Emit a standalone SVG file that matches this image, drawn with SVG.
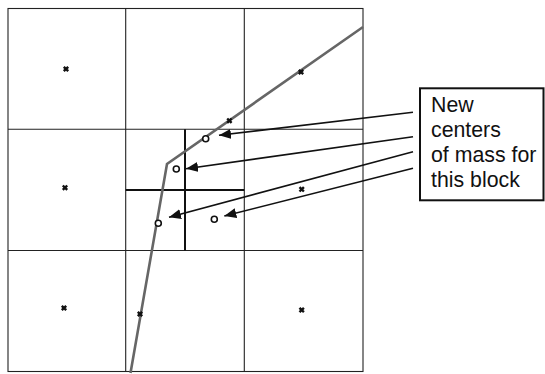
<svg xmlns="http://www.w3.org/2000/svg" width="545" height="374" viewBox="0 0 545 374">
<style>
.grid{stroke:#222;stroke-width:1.1;fill:none}
.inner{stroke:#111;stroke-width:2;fill:none}
.curve{stroke:#666;stroke-width:2.6;fill:none;stroke-linejoin:miter}
.com{fill:#fff;stroke:#111;stroke-width:1.6}
.arrow{stroke:#111;stroke-width:1.6;fill:none}
.lbl{font-family:"Liberation Sans",Arial,sans-serif;font-size:21.3px;fill:#111}
</style>
<defs>
<marker id="ah" markerUnits="userSpaceOnUse" markerWidth="14" markerHeight="12" refX="12" refY="5" orient="auto">
<path d="M0,0 L12,5 L0,10 Z" fill="#111"/>
</marker>
<path id="x" d="M-2.2,-2.2 L2.2,2.2 M-2.2,2.2 L2.2,-2.2" stroke="#111" stroke-width="2.4" fill="none"/>
</defs>
<rect width="545" height="374" fill="#fff"/>
<g id="grid">
<rect class="grid" x="8" y="8.5" width="355" height="363"/>
<line class="grid" x1="125.7" y1="8.5" x2="125.7" y2="371.5"/>
<line class="grid" x1="244.3" y1="8.5" x2="244.3" y2="371.5"/>
<line class="grid" x1="8" y1="129.3" x2="363" y2="129.3"/>
<line class="grid" x1="8" y1="250.5" x2="363" y2="250.5"/>
</g>
<g id="subdivision">
<line class="inner" x1="185" y1="129.3" x2="185" y2="250.5"/>
<line class="inner" x1="125.7" y1="190" x2="244.3" y2="190"/>
</g>
<g id="boundary">
<polyline class="curve" points="130.5,373 167,164 363,27"/>
</g>
<g id="old-centers">
<use href="#x" x="66" y="69"/>
<use href="#x" x="65" y="187.7"/>
<use href="#x" x="64" y="308"/>
<use href="#x" x="301" y="72"/>
<use href="#x" x="229.4" y="120.7"/>
<use href="#x" x="301.7" y="189.3"/>
<use href="#x" x="301.7" y="310"/>
<use href="#x" x="140" y="314"/>
</g>
<g id="new-centers">
<circle class="com" cx="205.7" cy="138.7" r="3"/>
<circle class="com" cx="176.3" cy="169" r="3"/>
<circle class="com" cx="158.3" cy="223.3" r="3"/>
<circle class="com" cx="214.3" cy="219.3" r="3"/>
</g>
<g id="label">
<rect x="420" y="88.3" width="123.5" height="112" fill="#fff" stroke="#111" stroke-width="2"/>
<text class="lbl" x="431" y="111.5">New</text>
<text class="lbl" x="431" y="136.5">centers</text>
<text class="lbl" x="431" y="161.5">of mass for</text>
<text class="lbl" x="431" y="186.5">this block</text>
</g>
<g id="connectors">
<line class="arrow" x1="413" y1="112.3" x2="219" y2="135.3" marker-end="url(#ah)"/>
<line class="arrow" x1="413" y1="136.7" x2="186" y2="168.7" marker-end="url(#ah)"/>
<line class="arrow" x1="413" y1="151.7" x2="169" y2="217.3" marker-end="url(#ah)"/>
<line class="arrow" x1="413" y1="168.3" x2="224.3" y2="216" marker-end="url(#ah)"/>
</g>
</svg>
